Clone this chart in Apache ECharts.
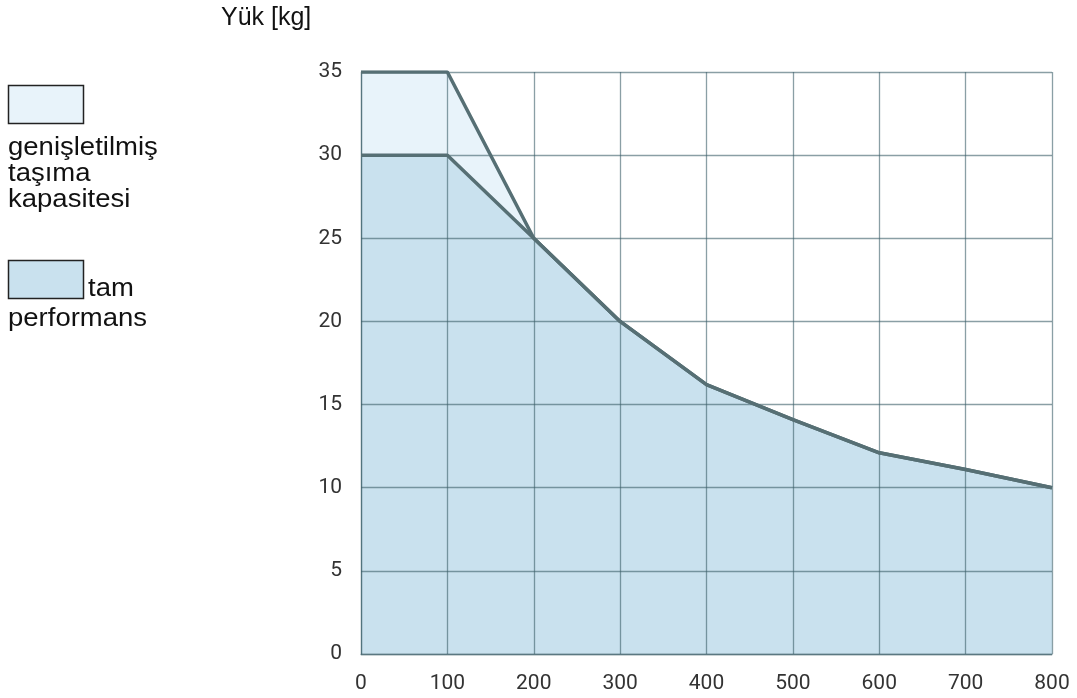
<!DOCTYPE html>
<html>
<head>
<meta charset="utf-8">
<script src="https://cdn.jsdelivr.net/npm/echarts@6/dist/echarts.min.js"></script>
<style>
html,body{margin:0;padding:0;background:#fff;}
#chart{width:1077px;height:698px;}
</style>
</head>
<body>
<div id="chart"></div>
<script>
var speeds = [0, 100, 200, 300, 400, 500, 600, 700, 800];
var fullPerformance = [30, 30, 25, 20, 16.2, 14.1, 12.1, 11.1, 10];
var extendedCapacity = [35, 35, 25, 20, 16.2, 14.1, 12.1, 11.1, 10];
var xTicks = [0, 100, 200, 300, 400, 500, 600, 700, 800];
var yTicks = [0, 5, 10, 15, 20, 25, 30, 35];
var yAxisTitle = 'Yük [kg]';
var legendExtended = 'genişletilmiş\ntaşıma\nkapasitesi';
var legendFullA = 'tam';
var legendFullB = 'performans';

function pairs(xs, ys) { return xs.map(function (x, i) { return [x, ys[i]]; }); }

var lineColor = '#566f74';
var gridColor = 'rgba(60,95,105,0.6)';
var extFill = '#e8f3fa';
var fullFill = '#c9e1ee';
var legendFont = '25px "Liberation Sans", Arial, sans-serif';
var stretch = 1.1;

var chart = echarts.init(document.getElementById('chart'));
chart.setOption({
  animation: false,
  grid: { left: 361, right: 25, top: 72, bottom: 44, containLabel: false },
  xAxis: {
    type: 'value', min: xTicks[0], max: xTicks[xTicks.length - 1], interval: 100, z: 2,
    axisLine: { show: true, lineStyle: { color: gridColor, width: 1.3 } },
    axisTick: { show: false },
    splitLine: { show: true, lineStyle: { color: gridColor, width: 1.3 } },
    axisLabel: { margin: 19, color: '#333', fontSize: 21, fontFamily: 'Roboto' }
  },
  yAxis: {
    type: 'value', min: yTicks[0], max: yTicks[yTicks.length - 1], interval: 5, z: 2,
    axisLine: { show: true, lineStyle: { color: gridColor, width: 1.3 } },
    axisTick: { show: false },
    splitLine: { show: true, lineStyle: { color: gridColor, width: 1.3 } },
    axisLabel: { margin: 19, color: '#333', fontSize: 21, fontFamily: 'Roboto' }
  },
  series: [
    { type: 'line', z: 1, data: pairs(speeds, extendedCapacity), symbol: 'none',
      lineStyle: { width: 0 }, areaStyle: { color: extFill, opacity: 1 } },
    { type: 'line', z: 1, data: pairs(speeds, fullPerformance), symbol: 'none',
      lineStyle: { width: 0 }, areaStyle: { color: fullFill, opacity: 1 } },
    { type: 'line', z: 3, data: pairs(speeds, extendedCapacity), symbol: 'none',
      lineStyle: { width: 3.5, color: lineColor } },
    { type: 'line', z: 3, data: pairs(speeds, fullPerformance), symbol: 'none',
      lineStyle: { width: 3.5, color: lineColor } }
  ],
  graphic: [
    { type: 'text', x: 221, y: 6, style: { text: yAxisTitle, font: '25px "Liberation Sans", Arial, sans-serif', fill: '#111', verticalAlign: 'top' } },
    { type: 'rect', shape: { x: 8.5, y: 85.5, width: 75, height: 38 }, style: { fill: extFill, stroke: '#222', lineWidth: 1.5 } },
    { type: 'text', x: 8, y: 135, scaleX: stretch, style: { text: legendExtended, font: legendFont, lineHeight: 26, fill: '#111', verticalAlign: 'top' } },
    { type: 'rect', shape: { x: 8.5, y: 260.5, width: 75, height: 38 }, style: { fill: fullFill, stroke: '#222', lineWidth: 1.5 } },
    { type: 'text', x: 88, y: 276, scaleX: stretch, style: { text: legendFullA, font: legendFont, lineHeight: 26, fill: '#111', verticalAlign: 'top' } },
    { type: 'text', x: 8, y: 306, scaleX: stretch, style: { text: legendFullB, font: legendFont, lineHeight: 26, fill: '#111', verticalAlign: 'top' } }
  ]
});
</script>
</body>
</html>
